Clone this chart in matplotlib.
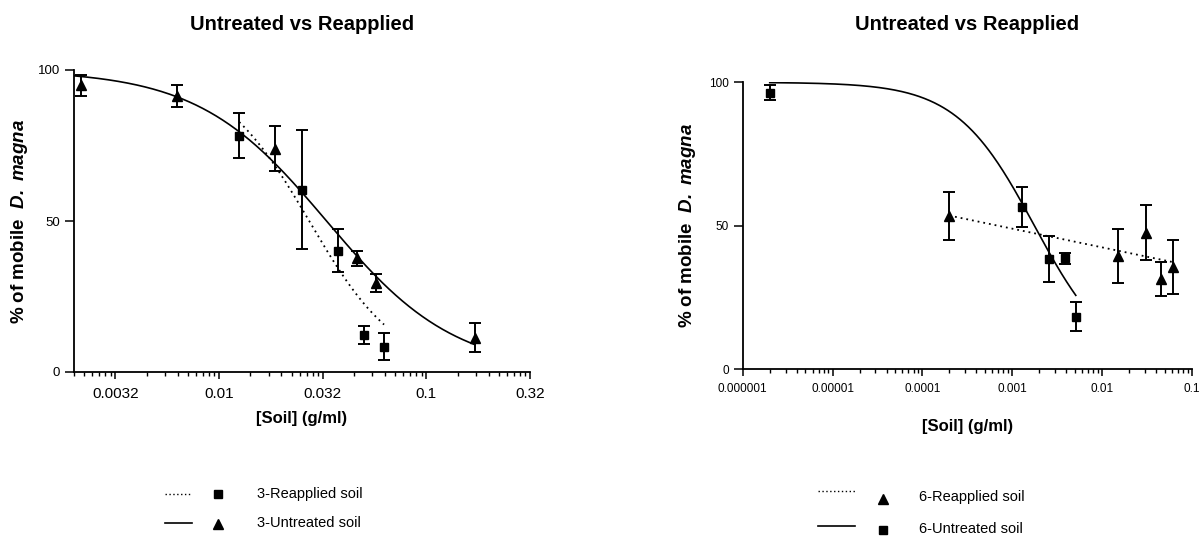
import numpy as np
import matplotlib
matplotlib.use('Agg')
import matplotlib.pyplot as plt
from matplotlib.ticker import FixedLocator, FixedFormatter, NullFormatter
from matplotlib.transforms import blended_transform_factory

plt.rcParams['font.family'] = ['Liberation Sans', 'DejaVu Sans']
plt.rcParams['mathtext.fontset'] = 'custom'
plt.rcParams['mathtext.bfit'] = 'Liberation Sans:italic:bold'
plt.rcParams['mathtext.bf'] = 'Liberation Sans:bold'

# ---- left panel (soil 3) ----
untreated3_x = [0.00215, 0.0063, 0.0187, 0.0464, 0.057, 0.171]
untreated3_y = [95.0, 91.4, 74.0, 37.7, 29.4, 11.4]
untreated3_err = [3.5, 3.5, 7.5, 2.5, 3.0, 4.8]
reapplied3_x = [0.0125, 0.025, 0.0375, 0.05, 0.0625]
reapplied3_y = [78.3, 60.3, 40.2, 12.3, 8.4]
reapplied3_err = [7.6, 19.7, 7.0, 3.0, 4.5]
# fitted dose-response curves (top, bottom, EC50, hill slope)
fit_untreated3 = (100.0, 0.0, 0.033, 1.4)
fit_reapplied3 = (100.0, 0.0, 0.0272, 2.02)

# ---- right panel (soil 6) ----
untreated6_x = [2e-6, 0.00128, 0.00256, 0.00384, 0.00512]
untreated6_y = [96.4, 56.4, 38.4, 38.6, 18.3]
untreated6_err = [2.5, 7.0, 8.0, 2.0, 5.0]
reapplied6_x = [0.0002, 0.0153, 0.0306, 0.0459, 0.0612]
reapplied6_y = [53.4, 39.4, 47.6, 31.3, 35.6]
reapplied6_err = [8.5, 9.3, 9.5, 6.0, 9.3]
fit_untreated6 = (100.0, 0.0, 0.00177, 1.0)
# reapplied 6 fit is nearly flat: y = a + b*log10(x)
fit_reapplied6 = (29.4, -6.52)

left_ticks = ['0.0032', '0.01', '0.032', '0.1', '0.32']
right_ticks = ['0.000001', '0.00001', '0.0001', '0.001', '0.01', '0.1']


def hill(x, top, bottom, ec50, slope):
    return bottom + (top - bottom) / (1 + (x / ec50) ** slope)


W, H = 1200, 537
fig = plt.figure(figsize=(12, 5.37), dpi=100)
ax1 = fig.add_axes([74 / W, 1 - 372 / H, 456 / W, 302 / H])
ax2 = fig.add_axes([742.7 / W, 1 - 369 / H, 449 / W, 286.7 / H])

for ax in (ax1, ax2):
    ax.set_xscale('log')
    ax.set_ylim(0, 100)
    ax.set_yticks([0, 50, 100])
    for s in ('top', 'right'):
        ax.spines[s].set_visible(False)
    for s in ('left', 'bottom'):
        ax.spines[s].set_linewidth(1.3)
    ax.tick_params(axis='y', length=6.5, width=1.1)
    ax.tick_params(axis='x', which='major', length=5, width=1.1)
    ax.tick_params(axis='x', which='minor', length=3, width=1.0)

# left axis: half-decade majors with compressed minor ticks
ax1.set_xlim(10 ** -2.7, 10 ** -0.5)
majors = 10 ** np.arange(-2.5, -0.49, 0.5)
minors = []
for m in np.arange(-3.0, -0.6, 0.5):
    for k in range(2, 10):
        v = m + 0.5 * np.log10(k)
        if -2.7 <= v <= -0.5:
            minors.append(10 ** v)
ax1.xaxis.set_major_locator(FixedLocator(majors))
ax1.xaxis.set_major_formatter(FixedFormatter(left_ticks))
ax1.xaxis.set_minor_locator(FixedLocator(minors))
ax1.xaxis.set_minor_formatter(NullFormatter())
ax1.tick_params(axis='x', labelsize=11, pad=6)
ax1.tick_params(axis='y', labelsize=9.5)

ax2.set_xlim(1e-6, 0.1)
ax2.xaxis.set_major_locator(FixedLocator(10.0 ** np.arange(-6, -0.9, 1)))
ax2.xaxis.set_major_formatter(FixedFormatter(right_ticks))
ax2.xaxis.set_minor_locator(FixedLocator(
    [k * 10.0 ** e for e in range(-6, -1) for k in range(2, 10)]))
ax2.xaxis.set_minor_formatter(NullFormatter())
ax2.tick_params(axis='both', labelsize=8.5)
ax2.tick_params(axis='x', pad=5)

eb = dict(color='k', capsize=4, elinewidth=1.4, capthick=1.4, linestyle='none', clip_on=False)

# left curves
xc = np.logspace(-2.7, np.log10(untreated3_x[-1]), 300)
ax1.plot(xc, hill(xc, *fit_untreated3), color='k', lw=1.2)
xc = np.logspace(np.log10(reapplied3_x[0]), np.log10(reapplied3_x[-1]), 200)
ax1.plot(xc, hill(xc, *fit_reapplied3), color='k', lw=1.3, linestyle=(0, (1, 2.2)))
ax1.errorbar(untreated3_x, untreated3_y, yerr=untreated3_err, marker='^', ms=7.5, **eb)
ax1.errorbar(reapplied3_x, reapplied3_y, yerr=reapplied3_err, marker='s', ms=6, **eb)

# right curves
xc = np.logspace(np.log10(untreated6_x[0]), np.log10(untreated6_x[-1]), 300)
ax2.plot(xc, hill(xc, *fit_untreated6), color='k', lw=1.2)
xc = np.logspace(np.log10(reapplied6_x[0]), np.log10(reapplied6_x[-1]), 50)
ax2.plot(xc, fit_reapplied6[0] + fit_reapplied6[1] * np.log10(xc), color='k', lw=1.3,
         linestyle=(0, (1, 2.2)))
ax2.errorbar(untreated6_x, untreated6_y, yerr=untreated6_err, marker='s', ms=6, **eb)
ax2.errorbar(reapplied6_x, reapplied6_y, yerr=reapplied6_err, marker='^', ms=7.5, **eb)

ylab = r'% of mobile  $\mathbfit{D.}$ $\mathbfit{magna}$'
for ax, yl_x, title_y, xlab_y in ((ax1, 20, 25, 418), (ax2, 688, 25, 427)):
    tr = blended_transform_factory(ax.transAxes, fig.transFigure)
    ax.text(0.5, 1 - title_y / H, 'Untreated vs Reapplied', transform=tr, ha='center',
            va='center', fontsize=14.5, fontweight='bold')
    ax.text(0.5, 1 - xlab_y / H, '[Soil] (g/ml)', transform=tr, ha='center', va='center',
            fontsize=12, fontweight='bold')
    pos = ax.get_position()
    fig.text(yl_x / W, pos.y0 + pos.height / 2, ylab, rotation=90, ha='center', va='center',
             fontsize=13.5, fontweight='bold')

# legends drawn in pixel coordinates
lg = fig.add_axes([0, 0, 1, 1])
lg.set_xlim(0, W)
lg.set_ylim(H, 0)
lg.axis('off')
lg.patch.set_alpha(0)

lg.plot([165, 192], [494, 494], color='k', lw=1.0, linestyle=(0, (1, 1.8)))
lg.plot([218], [494], marker='s', color='k', ms=5.5)
lg.text(257, 494, '3-Reapplied soil', va='center', fontsize=10.5)
lg.plot([165, 192], [523, 523], color='k', lw=1.2)
lg.plot([218], [524], marker='^', color='k', ms=6.5)
lg.text(257, 523, '3-Untreated soil', va='center', fontsize=10.5)

lg.plot([818, 855], [491, 491], color='k', lw=1.0, linestyle=(0, (1, 1.8)))
lg.plot([883], [499], marker='^', color='k', ms=6.5)
lg.text(919, 497, '6-Reapplied soil', va='center', fontsize=10.5)
lg.plot([818, 855], [526, 526], color='k', lw=1.2)
lg.plot([883], [530], marker='s', color='k', ms=5.5)
lg.text(919, 529, '6-Untreated soil', va='center', fontsize=10.5)

fig.savefig('out.png', dpi=100)
